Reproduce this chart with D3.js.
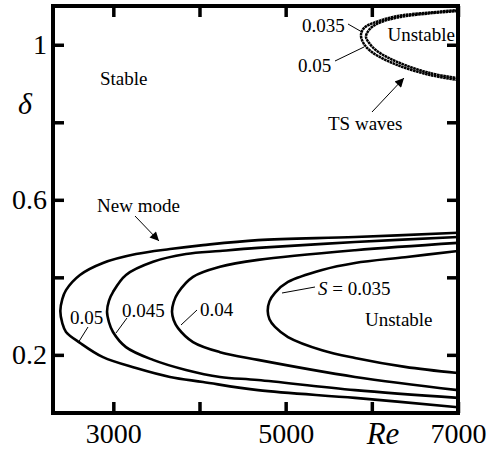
<!DOCTYPE html>
<html>
<head>
<meta charset="utf-8">
<script src="https://cdn.jsdelivr.net/npm/d3@7"></script>
<style>
  body { margin: 0; background: #fff; }
  svg { display: block; }
  text { font-family: "Liberation Serif", "DejaVu Serif", serif; fill: #000; }
</style>
</head>
<body>
<svg id="chart" width="488" height="450"></svg>
<script>
// ---------- data ----------
const xDomain = [2300, 7000];
const yDomain = [0.05, 1.1];
const xTicks = [3000, 4000, 5000, 6000, 7000];
const xTickLabels = {3000: "3000", 5000: "5000", 7000: "7000"};
const yTicks = [0.2, 0.4, 0.6, 0.8, 1.0];
const yTickLabels = {0.2: "0.2", 0.6: "0.6", 1: "1"};

// New-mode neutral curves [Re, delta], lower branch -> nose -> upper branch
const newModeS050 = [[7000,0.065],[5805,0.089],[4679,0.109],[4041,0.130],[3658,0.143],[3263,0.166],[2880,0.194],[2613,0.231],[2451,0.259],[2408,0.282],[2385,0.313],[2408,0.344],[2451,0.367],[2613,0.406],[2880,0.437],[3263,0.460],[3658,0.473],[4041,0.483],[4679,0.496],[5805,0.504],[7000,0.515]];
const newModeS045 = [[7000,0.089],[5805,0.109],[4679,0.135],[4238,0.143],[3843,0.161],[3461,0.187],[3147,0.220],[2996,0.259],[2950,0.284],[2927,0.311],[2950,0.340],[2996,0.362],[3147,0.406],[3461,0.440],[3843,0.460],[4238,0.468],[4679,0.476],[5805,0.491],[7000,0.504]];
const newModeS040 = [[7000,0.109],[5805,0.143],[4679,0.187],[4238,0.207],[3925,0.233],[3751,0.269],[3700,0.290],[3681,0.311],[3700,0.336],[3751,0.360],[3925,0.401],[4238,0.427],[4679,0.445],[5805,0.470],[7000,0.489]];
const newModeS035 = [[7000,0.153],[6385,0.169],[5805,0.192],[5422,0.212],[5027,0.246],[4876,0.272],[4812,0.292],[4792,0.313],[4812,0.338],[4876,0.360],[5027,0.388],[5422,0.419],[5805,0.437],[6385,0.452],[7000,0.468]];

// TS-wave neutral curves
const tsS035 = [[7000,0.909],[6675,0.922],[6292,0.948],[6014,0.979],[5909,1.002],[5874,1.025],[5909,1.043],[6014,1.056],[6292,1.074],[6675,1.083],[7000,1.090]];
const tsS050 = [[7000,0.914],[6675,0.927],[6292,0.956],[6060,0.984],[5967,1.005],[5932,1.021],[5967,1.038],[6060,1.054],[6292,1.070],[6675,1.081],[7000,1.087]];

// ---------- chart ----------
const svg = d3.select("#chart");
const L = 53, R = 458, T = 6, B = 413;
const x = d3.scaleLinear().domain(xDomain).range([L, R]);
const y = d3.scaleLinear().domain(yDomain).range([B, T]);

const defs = svg.append("defs");
defs.append("clipPath").attr("id", "clip")
  .append("rect").attr("x", L).attr("y", T).attr("width", R - L).attr("height", B - T);
defs.append("marker").attr("id", "arrow")
  .attr("viewBox", "0 0 10 10").attr("refX", 10).attr("refY", 5)
  .attr("markerWidth", 11).attr("markerHeight", 9).attr("markerUnits", "userSpaceOnUse")
  .attr("orient", "auto")
  .append("path").attr("d", "M0,0 L10,5 L0,10 Z").attr("fill", "#000");

const line = d3.line().x(d => x(d[0])).y(d => y(d[1])).curve(d3.curveCatmullRom.alpha(0.5));

const plot = svg.append("g").attr("clip-path", "url(#clip)");
[newModeS050, newModeS045, newModeS040, newModeS035].forEach(c => {
  plot.append("path").attr("d", line(c)).attr("fill", "none")
    .attr("stroke", "#000").attr("stroke-width", 2.6).attr("stroke-linejoin", "round");
});
[tsS035, tsS050].forEach(c => {
  plot.append("path").attr("d", line(c)).attr("fill", "none")
    .attr("stroke", "#000").attr("stroke-width", 2.5)
    .attr("stroke-dasharray", "2.6,0.5");
});

// axes
function styleAxis(g) {
  g.select(".domain").remove();
  g.selectAll(".tick line").attr("stroke", "#000").attr("stroke-width", 3.5);
  g.selectAll(".tick text").style("font-family", '"Liberation Serif", serif')
    .style("font-size", "28px").attr("fill", "#000");
}
svg.append("g").attr("transform", `translate(0,${B})`)
  .call(d3.axisBottom(x).tickValues(xTicks).tickSize(-11).tickPadding(10)
    .tickFormat(d => xTickLabels[d] || ""))
  .call(styleAxis);
svg.append("g").attr("transform", `translate(0,${T})`)
  .call(d3.axisTop(x).tickValues(xTicks).tickSize(-11).tickFormat(""))
  .call(styleAxis);
svg.append("g").attr("transform", `translate(${L},0)`)
  .call(d3.axisLeft(y).tickValues(yTicks).tickSize(-11).tickPadding(6)
    .tickFormat(d => yTickLabels[+d.toFixed(1)] || ""))
  .call(styleAxis);
svg.append("g").attr("transform", `translate(${R},0)`)
  .call(d3.axisRight(y).tickValues(yTicks).tickSize(-11).tickFormat(""))
  .call(styleAxis);

// spines
svg.append("path")
  .attr("d", `M${L},${T} L${R},${T} L${R},${B} L${L},${B} Z`)
  .attr("fill", "none").attr("stroke", "#000").attr("stroke-width", 4)
  .attr("stroke-linejoin", "miter");

// axis titles
svg.append("text").attr("x", 383).attr("y", 444).attr("text-anchor", "middle")
  .style("font-style", "italic").style("font-size", "31px").text("Re");
svg.append("text").attr("x", 18).attr("y", 114)
  .style("font-style", "italic").style("font-size", "30px").text("δ");

// annotations
function label(tx, ty, str, anchor = "start") {
  return svg.append("text").attr("x", tx).attr("y", ty).attr("text-anchor", anchor)
    .style("font-size", "19px").text(str);
}
function leader(x1, y1, x2, y2, arrow = false) {
  const p = svg.append("line").attr("x1", x1).attr("y1", y1).attr("x2", x2).attr("y2", y2)
    .attr("stroke", "#000").attr("stroke-width", 1);
  if (arrow) p.attr("marker-end", "url(#arrow)");
}

label(100, 85, "Stable");
label(455, 41, "Unstable", "end");
label(302, 32, "0.035");
leader(348, 24, 362, 32);
label(298, 72, "0.05");
leader(335, 61, 364, 47);
label(328, 130, "TS waves");
leader(372, 112, 404, 78, true);
label(97, 212, "New mode");
leader(135, 216, 159, 241, true);

label(70, 324, "0.05");
leader(88, 327, 78, 343);
label(122, 317, "0.045");
leader(127, 318, 116, 333);
label(200, 316, "0.04");
leader(197, 310, 181, 325);
const sl = svg.append("text").attr("x", 318).attr("y", 295).style("font-size", "19px");
sl.append("tspan").style("font-style", "italic").text("S");
sl.append("tspan").text(" = 0.035");
leader(315, 287, 282, 293);
label(365, 326, "Unstable");
</script>
</body>
</html>
